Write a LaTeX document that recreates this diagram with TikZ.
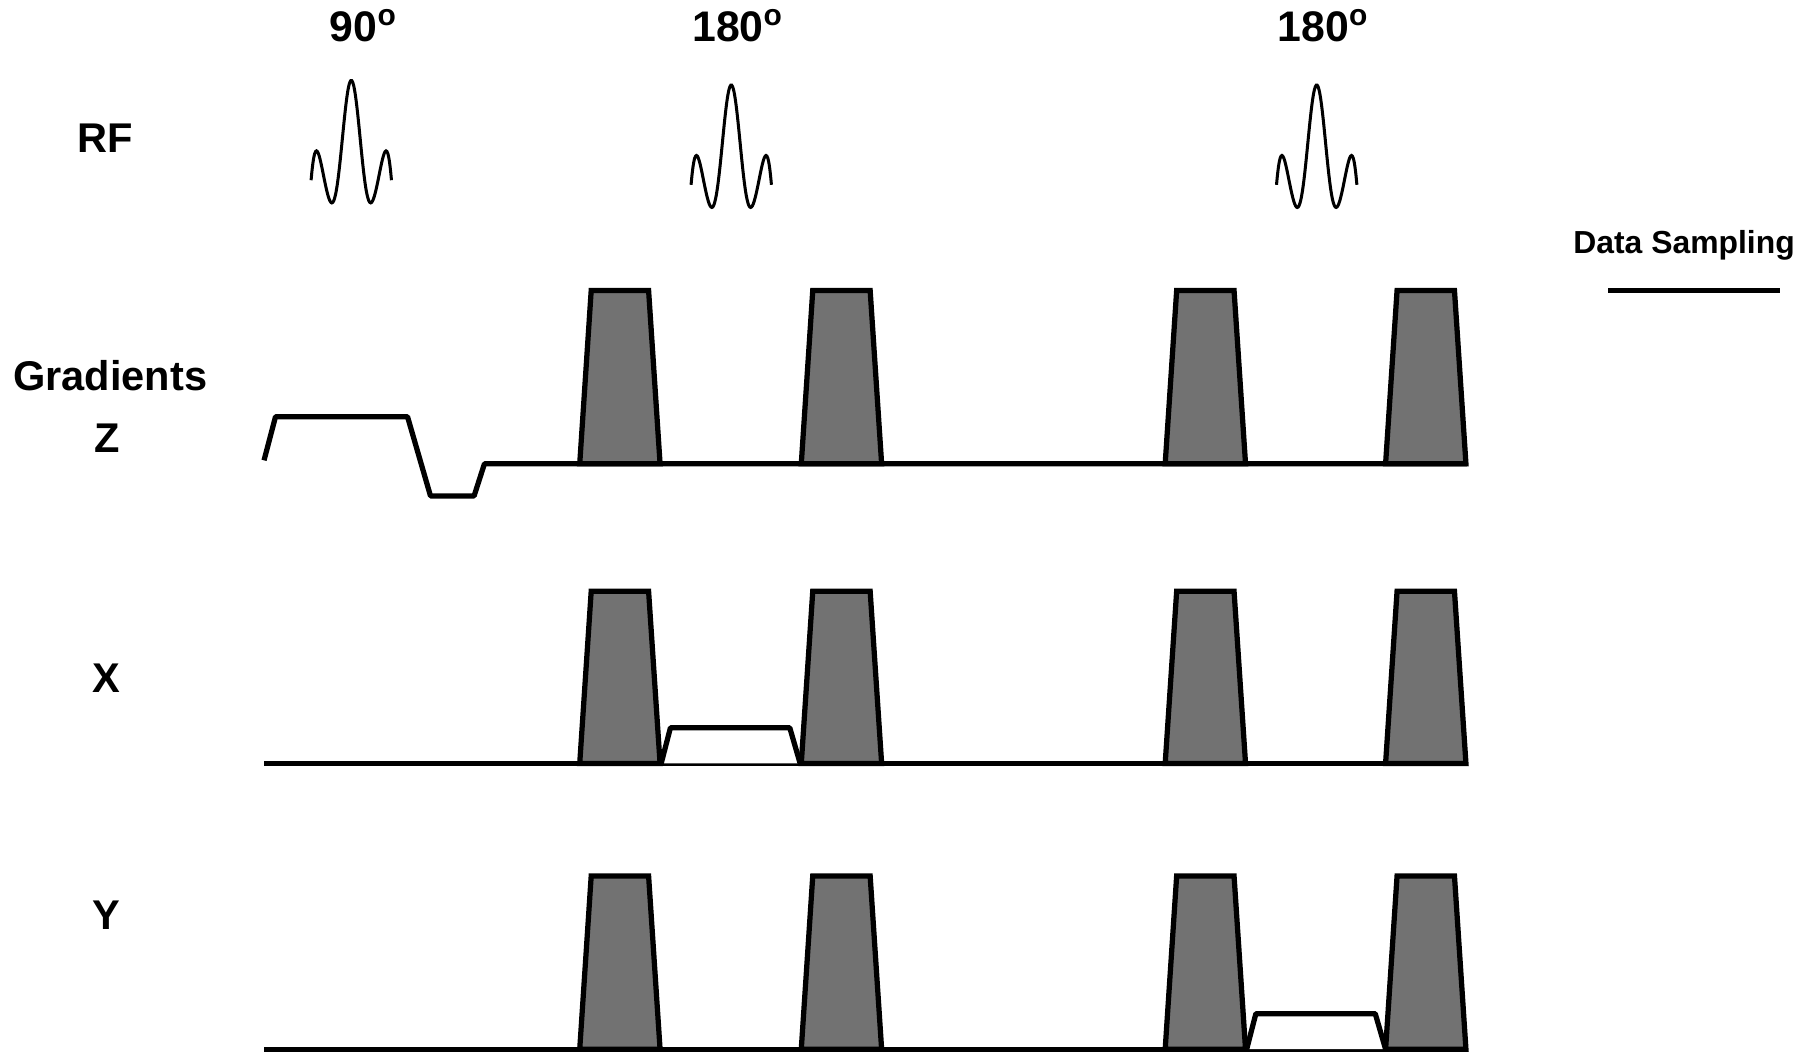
\documentclass[tikz,border=0pt]{standalone}
\usepackage{fontspec}
\setmainfont{Liberation Sans}
\definecolor{lobegray}{RGB}{114,114,114}
\newcommand{\gradlobe}[3]{\draw[lobe] (#1,#2) -- (#1+10,#3) -- (#1+60,#3) -- (#1+70,#2) -- cycle;}
\newcommand{\rfpulse}[2]{\draw[rfline] plot[domain=-3:3, samples=90, smooth] ({#1+11.67*\x}, {#2-87*sin(180*\x)/(pi*\x)*(1+3.6*(\x/3)^6)});}

\begin{document}
\begin{tikzpicture}[x=0.1mm, y=-0.1mm]

\tikzset{axislabel/.style = {font=\bfseries\fontsize{10.3}{12}\selectfont, inner sep=0pt, anchor=base}}
\tikzset{anglelabel/.style = {font=\bfseries\fontsize{10.6}{12}\selectfont, inner sep=0pt, anchor=base}}
\tikzset{samplabel/.style = {font=\bfseries\fontsize{7.9}{9}\selectfont, inner sep=0pt, anchor=base}}
\tikzset{lobe/.style = {draw, fill=lobegray, line width=1.3pt, line join=miter}}
\tikzset{wave/.style = {line width=1.3pt, line join=round}}
\tikzset{rfline/.style = {line width=0.75pt}}

\useasboundingbox (0,0) rectangle (1568,920);

%labels
\node[axislabel] (rf) at (92,133) {RF};
\node[axislabel] (grad) at (96,340) {Gradients};
\node[axislabel] (gz) at (93,394) {Z};
\node[axislabel] (gx) at (93,603) {X};
\node[axislabel] (gy) at (93,810) {Y};
\node[anglelabel] (a90) at (317,36) {90\textsuperscript{o}};
\node[anglelabel] (a180) at (643,36) {180\textsuperscript{o}};
\node[anglelabel] (b180) at (1153,36) {180\textsuperscript{o}};
\node[samplabel] (samp) at (1467,221) {Data Sampling};

%pulses
\rfpulse{306}{157}
\rfpulse{637}{161}
\rfpulse{1147}{161}

%Z
\draw[wave] (230,401) -- (240,363) -- (355,363) -- (375,432) -- (413,432) -- (422,404) -- (1278,404);
\gradlobe{505}{404}{253}
\gradlobe{698}{404}{253}
\gradlobe{1015}{404}{253}
\gradlobe{1207}{404}{253}

%X
\draw[wave] (230,665) -- (1278,665);
\draw[wave, fill=white] (576,665) -- (584,634) -- (688,634) -- (697,665);
\gradlobe{505}{665}{515}
\gradlobe{698}{665}{515}
\gradlobe{1015}{665}{515}
\gradlobe{1207}{665}{515}

%Y
\draw[wave] (230,914) -- (1278,914);
\draw[wave, fill=white] (1086,914) -- (1094,883) -- (1198,883) -- (1207,914);
\gradlobe{505}{914}{763}
\gradlobe{698}{914}{763}
\gradlobe{1015}{914}{763}
\gradlobe{1207}{914}{763}

%sampling
\coordinate (sl) at (1401,253);
\coordinate (sr) at (1551,253);
\draw[wave] (sl) -- (sr);

\end{tikzpicture}
\end{document}
